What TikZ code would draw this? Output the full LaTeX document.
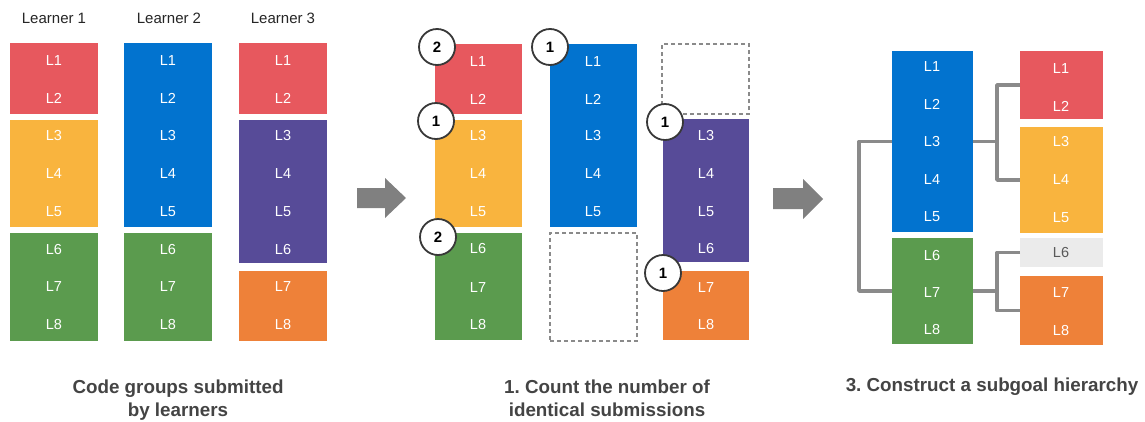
\documentclass[tikz,border=0pt]{standalone}
\usepackage{fontspec}
\setmainfont{Liberation Sans}
\frenchspacing
\definecolor{cred}{HTML}{E7585E}
\definecolor{cyel}{HTML}{F9B43E}
\definecolor{cblu}{HTML}{0273CF}
\definecolor{cgrn}{HTML}{5B9B4E}
\definecolor{cpur}{HTML}{574B98}
\definecolor{corg}{HTML}{EE8139}
\definecolor{clgr}{HTML}{EBEBEB}
\definecolor{cline}{HTML}{8A8A8A}
\definecolor{carrow}{HTML}{808080}
\definecolor{ccap}{HTML}{444444}
\newcommand\bx[6]{\node[boxstyle,fill=#6,minimum width={#4-#2},minimum height={#5-#3}] (#1) at ({(#2+#4)/2},{(#3+#5)/2}) {};}
\newcommand\dbx[5]{\node[dashbox,minimum width={#4-#2},minimum height={#5-#3}] (#1) at ({(#2+#4)/2},{(#3+#5)/2}) {};}
\begin{document}
\begin{tikzpicture}[x=1pt,y=-1pt,
  boxstyle/.style={rectangle,draw=none,inner sep=0pt,outer sep=0pt},
  dashbox/.style={rectangle,draw=cline,line width=1.3pt,dash pattern=on 4pt off 3pt,inner sep=0pt,outer sep=0pt},
  lbl/.style={text=white,font=\fontsize{14.5}{16}\selectfont,inner sep=0pt},
  glbl/.style={lbl,text=black!65},
  headtext/.style={text=black!85,font=\fontsize{15}{17}\selectfont,anchor=base,inner sep=0pt},
  captext/.style={text=ccap,font=\bfseries\fontsize{18.8}{22}\selectfont,anchor=base,inner sep=0pt},
  cnt/.style={circle,draw=black!78,line width=1.8pt,fill=white,minimum size=36pt,inner sep=0pt,font=\bfseries\fontsize{15}{17}\selectfont},
  conn/.style={draw=cline,line width=3.6pt,line join=round},
  blockarrow/.style={fill=carrow}]
\useasboundingbox (0,0) rectangle (1145,421);
\fill[white] (0,0) rectangle (1145,421);

% ---- headers
\node[headtext] (h1) at (54,23) {Learner 1};
\node[headtext] (h2) at (169,23) {Learner 2};
\node[headtext] (h3) at (283,23) {Learner 3};

% ---- panel 1
\bx{a1}{10}{43}{98}{114}{cred}
\bx{a2}{10}{120}{98}{227}{cyel}
\bx{a3}{10}{233}{98}{341}{cgrn}
\bx{b1}{124}{43}{212}{227}{cblu}
\bx{b2}{124}{233}{212}{341}{cgrn}
\bx{c1}{239}{43}{327}{114}{cred}
\bx{c2}{239}{120}{327}{263}{cpur}
\bx{c3}{239}{271}{327}{341}{corg}
\foreach \r/\y in {1/61,2/98,3/136,4/174,5/212,6/250,7/287,8/325}{
  \node[lbl] (pa\r) at (54,\y) {L\r};
  \node[lbl] (pb\r) at (168,\y) {L\r};
  \node[lbl] (pc\r) at (283,\y) {L\r};
}

% ---- panel 2
\bx{d1}{435}{44}{522}{114}{cred}
\bx{d2}{435}{120}{522}{227}{cyel}
\bx{d3}{435}{233}{522}{340}{cgrn}
\bx{e1}{550}{44}{637}{227}{cblu}
\dbx{e2}{550}{233}{637}{341}
\dbx{f0}{662}{44}{749}{114}
\bx{f1}{663}{119}{749}{262}{cpur}
\bx{f2}{663}{271}{749}{340}{corg}
\foreach \r/\y in {1/62,2/99,3/136,4/174,5/212,6/249,7/288,8/325}{
  \node[lbl] (qd\r) at (478,\y) {L\r};
}
\foreach \r/\y in {1/62,2/99,3/136,4/174,5/212}{
  \node[lbl] (qe\r) at (593,\y) {L\r};
}
\foreach \r/\y in {3/136,4/174,5/212,6/249,7/288,8/325}{
  \node[lbl] (qf\r) at (706,\y) {L\r};
}
\node[cnt] (n1) at (437,47) {2};
\node[cnt] (n2) at (436,121) {1};
\node[cnt] (n3) at (438,237) {2};
\node[cnt] (n4) at (550,47) {1};
\node[cnt] (n5) at (665,122) {1};
\node[cnt] (n6) at (663,273) {1};

% ---- panel 3
\bx{B}{892}{51}{973}{232}{cblu}
\bx{G}{892}{238}{973}{344}{cgrn}
\bx{R}{1020}{51}{1103}{119}{cred}
\bx{O}{1020}{127}{1103}{233}{cyel}
\bx{S}{1020}{238}{1103}{267}{clgr}
\bx{P}{1020}{276}{1103}{345}{corg}
\foreach \r/\y in {1/67,2/104,3/142,4/180,5/217,6/256,7/293,8/330}{
  \node[lbl] (rb\r) at (932,\y) {L\r};
}
\foreach \r/\y in {1/69,2/106,3/142,4/180,5/218,7/293,8/331}{
  \node[lbl] (rr\r) at (1061,\y) {L\r};
}
\node[glbl] (rr6) at (1061,253) {L6};

% connectors
\draw[conn] (B.west) -- ++(-33,0) |- (G.west);
\path (B.east) ++(24,0) coordinate (j1);
\path (G.east) ++(24,0) coordinate (j2);
\draw[conn] (B.east) -- (j1);
\draw[conn] (R.west) -| (j1) |- (O.west);
\draw[conn] (G.east) -- (j2);
\draw[conn] (S.west) -| (j2) |- (P.west);

% ---- block arrows
\fill[blockarrow] (357,188) -- (385,188) -- (385,178) -- (406,198) -- (385,218) -- (385,208) -- (357,208) -- cycle;
\fill[blockarrow] (773,188) -- (803,188) -- (803,179) -- (823,199) -- (803,219) -- (803,209) -- (773,209) -- cycle;

% ---- captions
\node[captext] (k1a) at (178,393) {Code groups submitted};
\node[captext] (k1b) at (178,416) {by learners};
\node[captext] (k2a) at (607,393) {1. Count the number of};
\node[captext] (k2b) at (607,416) {identical submissions};
\node[captext] (k3) at (992,391) {3. Construct a subgoal hierarchy};
\end{tikzpicture}
\end{document}
